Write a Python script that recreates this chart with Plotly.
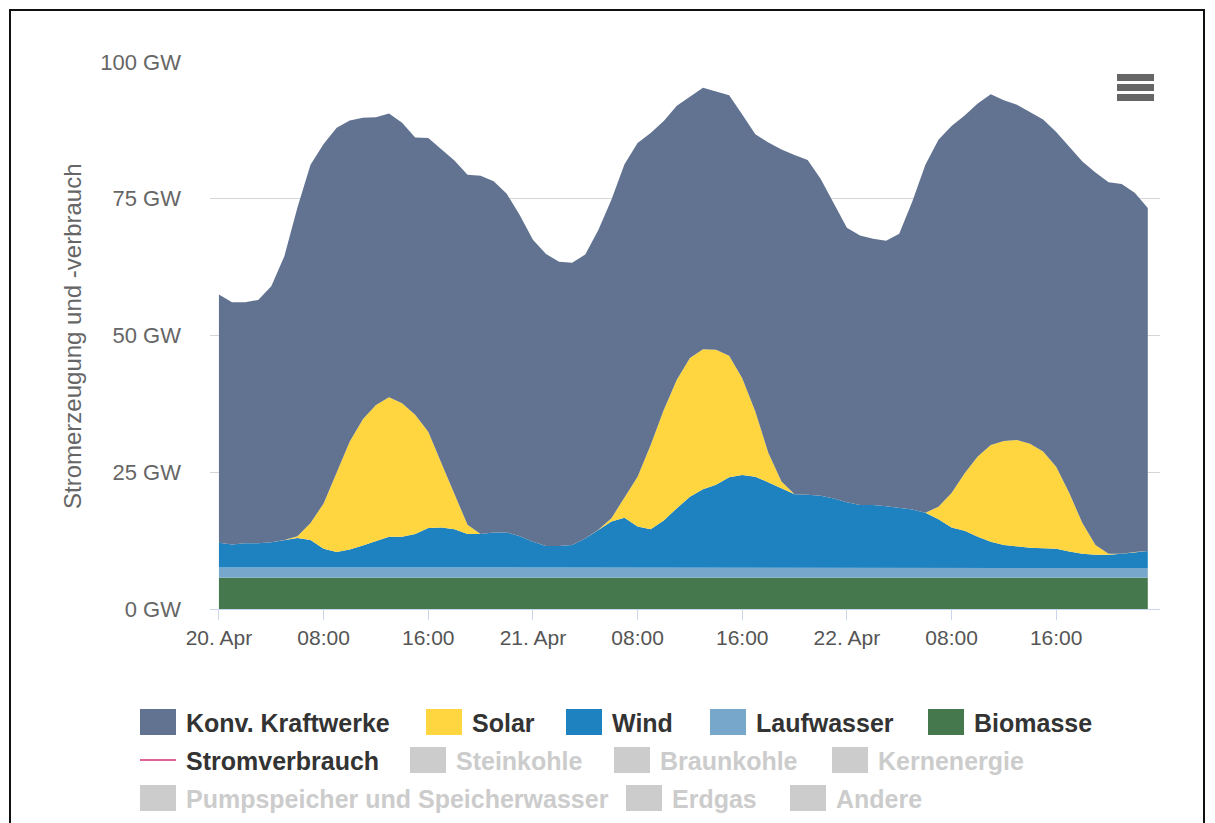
import plotly.graph_objects as go
import pandas as pd

# ---------------- data ----------------
hours = pd.date_range("2019-04-20 00:00", periods=72, freq="h")

tick_positions = pd.date_range("2019-04-20 00:00", periods=9, freq="8h")
tick_labels = ["20. Apr", "08:00", "16:00", "21. Apr", "08:00", "16:00",
               "22. Apr", "08:00", "16:00"]
y_tick_values = [0, 25, 50, 75, 100]
y_tick_labels = ["0 GW", "25 GW", "50 GW", "75 GW", "100 GW"]

biomasse = [5.7, 5.7, 5.7, 5.7, 5.7, 5.7, 5.7, 5.7, 5.7, 5.7, 5.7, 5.7,
            5.7, 5.7, 5.7, 5.7, 5.7, 5.7, 5.7, 5.7, 5.7, 5.7, 5.7, 5.7,
            5.7, 5.7, 5.7, 5.7, 5.7, 5.7, 5.7, 5.7, 5.7, 5.7, 5.7, 5.7,
            5.7, 5.7, 5.7, 5.7, 5.7, 5.7, 5.7, 5.7, 5.7, 5.7, 5.7, 5.7,
            5.7, 5.7, 5.7, 5.7, 5.7, 5.7, 5.7, 5.7, 5.7, 5.7, 5.7, 5.7,
            5.7, 5.7, 5.7, 5.7, 5.7, 5.7, 5.7, 5.7, 5.7, 5.7, 5.7, 5.7]

laufwasser = [1.9, 1.9, 1.9, 1.9, 1.9, 1.9, 1.9, 1.9, 1.9, 1.9, 1.9, 1.9,
              1.9, 1.9, 1.9, 1.9, 1.9, 1.9, 1.9, 1.9, 1.8, 1.8, 1.8, 1.8,
              1.8, 1.8, 1.8, 1.8, 1.8, 1.8, 1.9, 1.9, 1.9, 1.9, 1.9, 1.9,
              1.9, 1.9, 1.9, 1.9, 1.9, 1.9, 1.8, 1.8, 1.8, 1.8, 1.8, 1.8,
              1.8, 1.8, 1.8, 1.8, 1.8, 1.8, 1.8, 1.8, 1.8, 1.8, 1.8, 1.8,
              1.8, 1.8, 1.8, 1.8, 1.8, 1.8, 1.8, 1.8, 1.8, 1.8, 1.8, 1.8]

wind = [4.5, 4.2, 4.4, 4.4, 4.6, 5.0, 5.4, 5.0, 3.4, 2.8, 3.3, 4.0,
        4.8, 5.6, 5.6, 6.1, 7.2, 7.3, 7.0, 6.1, 6.2, 6.5, 6.5, 5.8,
        4.8, 4.0, 4.0, 4.2, 5.4, 7.0, 8.4, 9.1, 7.5, 7.0, 8.6, 10.8,
        12.9, 14.3, 15.1, 16.5, 16.9, 16.6, 15.6, 14.5, 13.5, 13.4, 13.2, 12.7,
        12.0, 11.5, 11.5, 11.3, 11.0, 10.7, 10.1, 8.9, 7.4, 6.8, 5.7, 4.8,
        4.2, 3.9, 3.7, 3.6, 3.5, 3.0, 2.6, 2.4, 2.4, 2.6, 2.9, 3.1]

solar = [0.0, 0.0, 0.0, 0.0, 0.0, 0.0, 0.3, 3.1, 8.3, 14.4, 19.7, 23.1,
         24.9, 25.5, 24.4, 21.8, 17.6, 11.8, 6.3, 1.7, 0.0, 0.0, 0.0, 0.0,
         0.0, 0.0, 0.0, 0.0, 0.0, 0.0, 0.6, 3.6, 9.1, 15.4, 20.2, 23.5,
         25.4, 25.6, 24.7, 22.2, 17.7, 11.9, 5.4, 1.3, 0.0, 0.0, 0.0, 0.0,
         0.0, 0.0, 0.0, 0.0, 0.0, 0.0, 0.0, 2.3, 6.3, 10.5, 14.7, 17.7,
         19.0, 19.5, 19.0, 17.7, 15.0, 10.7, 5.6, 1.8, 0.2, 0.0, 0.0, 0.0]

konv = [45.4, 44.3, 44.1, 44.5, 46.8, 51.9, 60.1, 65.5, 65.7, 63.2, 58.7, 55.1,
        52.6, 51.9, 51.3, 50.7, 53.7, 57.3, 61.1, 64.0, 65.5, 64.2, 61.9, 58.7,
        55.2, 53.4, 52.0, 51.6, 51.9, 54.8, 58.2, 61.0, 61.0, 57.0, 52.8, 50.1,
        47.7, 47.8, 47.2, 47.6, 48.2, 50.7, 56.8, 60.7, 62.0, 61.2, 57.9, 54.0,
        50.2, 49.3, 48.7, 48.5, 50.1, 56.3, 63.6, 67.1, 67.1, 65.4, 64.5, 64.1,
        62.3, 61.3, 60.7, 60.7, 61.2, 63.3, 66.1, 68.1, 67.9, 67.6, 65.7, 62.7]

# legend entries (name, colour, active, kind)
legend_rows = [
    [("Konv. Kraftwerke", "#617391", True, "box"), ("Solar", "#ffd640", True, "box"),
     ("Wind", "#1f82c0", True, "box"), ("Laufwasser", "#78a7cc", True, "box"),
     ("Biomasse", "#46784d", True, "box")],
    [("Stromverbrauch", "#e0609a", True, "line"), ("Steinkohle", "#cccccc", False, "box"),
     ("Braunkohle", "#cccccc", False, "box"), ("Kernenergie", "#cccccc", False, "box")],
    [("Pumpspeicher und Speicherwasser", "#cccccc", False, "box"),
     ("Erdgas", "#cccccc", False, "box"), ("Andere", "#cccccc", False, "box")],
]

# ---------------- layout geometry (pixels) ----------------
W, H = 1215, 823
L, R, T, B = 210, 55, 62, 214
PW, PH = W - L - R, H - T - B


def px(x):
    return (x - L) / PW


def py(y):
    return (H - B - y) / PH


fig = go.Figure()

series = [("Biomasse", biomasse, "#46784d"),
          ("Laufwasser", laufwasser, "#78a7cc"),
          ("Wind", wind, "#1f82c0"),
          ("Solar", solar, "#ffd640"),
          ("Konv. Kraftwerke", konv, "#617391")]

for name, vals, col in series:
    fig.add_trace(go.Scatter(
        x=hours, y=vals, name=name, stackgroup="one",
        mode="lines", line=dict(width=0, color=col),
        fillcolor=col, showlegend=False,
    ))

shapes = []
annotations = []

# manual legend
row_y = [722, 760, 798]
row_x_starts = [
    [140, 426, 566, 710, 928],
    [140, 410, 614, 832],
    [140, 626, 790],
]
for r, row in enumerate(legend_rows):
    yc = row_y[r]
    for i, (name, col, active, kind) in enumerate(row):
        x0 = row_x_starts[r][i]
        if kind == "box":
            shapes.append(dict(type="rect", xref="paper", yref="paper",
                               x0=px(x0), x1=px(x0 + 36), y0=py(yc - 13), y1=py(yc + 13),
                               fillcolor=col, line=dict(width=0), layer="above"))
        else:
            shapes.append(dict(type="line", xref="paper", yref="paper",
                               x0=px(x0), x1=px(x0 + 36), y0=py(yc), y1=py(yc),
                               line=dict(color=col, width=2), layer="above"))
        annotations.append(dict(
            text=name, xref="paper", yref="paper", x=px(x0 + 44), y=py(yc + 1),
            xanchor="left", yanchor="middle", showarrow=False,
            font=dict(family="Liberation Sans, Arial", size=25,
                      color="#333333" if active else "#cccccc", weight="bold"),
        ))

# y-axis title
annotations.append(dict(
    text="Stromerzeugung und -verbrauch", xref="paper", yref="paper",
    x=px(72), y=py(336), textangle=-90, showarrow=False,
    xanchor="center", yanchor="middle",
    font=dict(family="Liberation Sans, Arial", size=24, color="#666666"),
))

# export menu icon
for yb in (74, 84, 94):
    shapes.append(dict(type="rect", xref="paper", yref="paper",
                       x0=px(1117), x1=px(1154), y0=py(yb + 7), y1=py(yb),
                       fillcolor="#666666", line=dict(width=0)))

# outer frame
shapes.append(dict(type="rect", xref="paper", yref="paper",
                   x0=px(10), x1=px(1204), y0=py(830), y1=py(10),
                   line=dict(color="#111111", width=2), fillcolor="rgba(0,0,0,0)"))

fig.update_layout(
    width=W, height=H,
    margin=dict(l=L, r=R, t=T, b=B),
    paper_bgcolor="white", plot_bgcolor="white",
    showlegend=False,
    shapes=shapes, annotations=annotations,
    hovermode="x",
)

fig.update_xaxes(
    type="date",
    range=["2019-04-19 23:19", "2019-04-22 23:56"],
    tickmode="array", tickvals=tick_positions, ticktext=tick_labels,
    showgrid=False, zeroline=False,
    showline=True, linecolor="#ccd6eb", linewidth=1,
    ticks="outside", ticklen=10, tickcolor="#ccd6eb", tickwidth=1,
    tickfont=dict(family="Liberation Sans, Arial", size=21, color="#555555"),
)

fig.update_yaxes(
    range=[0, 100],
    tickmode="array", tickvals=y_tick_values, ticktext=y_tick_labels,
    showgrid=True, gridcolor="#d6d6d6", gridwidth=1,
    zeroline=False, showline=False, ticks="",
    ticklabelstandoff=28,
    tickfont=dict(family="Liberation Sans, Arial", size=22, color="#666666"),
)

fig.write_html("out.html",
               config={"displayModeBar": False},
               post_script="document.body.style.margin='0';document.body.style.overflow='hidden';")
